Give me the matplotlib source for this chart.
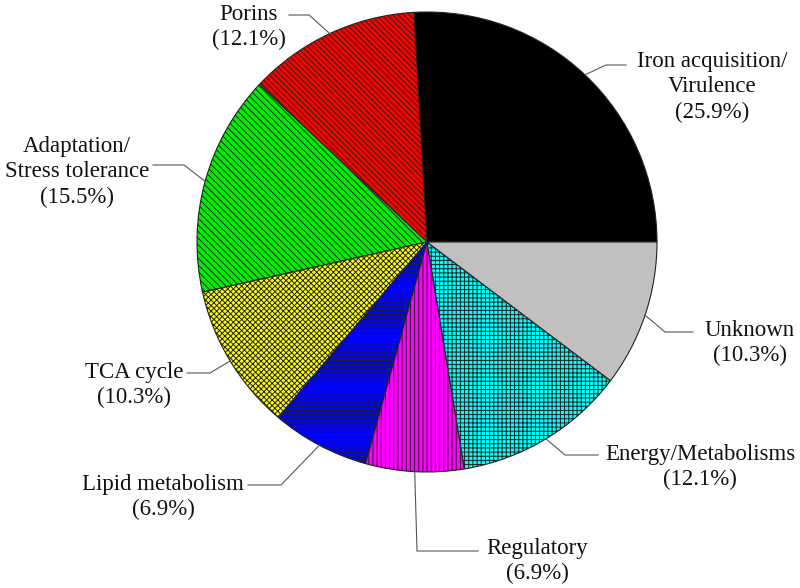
import numpy as np
import matplotlib
matplotlib.use('Agg')
from matplotlib import pyplot as plt

# slices, counter-clockwise from 3 o'clock
categories = ['Iron acquisition/\nVirulence', 'Porins', 'Adaptation/\nStress tolerance', 'TCA cycle',
              'Lipid metabolism', 'Regulatory', 'Energy/Metabolisms', 'Unknown']
percents = [25.9, 12.1, 15.5, 10.3, 6.9, 6.9, 12.1, 10.3]
colors = ['#000000', '#ff0000', '#00ee00', '#ffff00', '#0000ff', '#ff00ff', '#00ffff', '#c0c0c0']
hatches = ['', '\\' * 6, '\\' * 5, 'x' * 6, '----', '||||', '++++', '']

# label layout in pixels: (elbow, line end, text centre)
W, H = 800, 588
cx, cy, R = 427, 242, 230
elbows = [(606, 65), (309, 15), (184, 165), (210, 373), (281, 485), (417, 551), (565, 455), (665, 332)]
ends = [(626, 65), (289, 15), (153, 165), (187, 373), (248, 485), (478, 551), (598, 455), (693, 332)]
text_pos = [(712, 87), (249, 27), (77, 172), (134, 385), (163, 497), (537, 561), (700, 467), (750, 343)]


def px(p):
    return (p[0] - cx) / R, (cy - p[1]) / R


plt.rcParams['font.family'] = ['Liberation Serif', 'DejaVu Serif']
plt.rcParams['hatch.linewidth'] = 0.7

fig = plt.figure(figsize=(W / 100, H / 100), dpi=100)
ax = fig.add_axes([0, 0, 1, 1])

wedges, _ = ax.pie(percents, colors=colors, startangle=0, counterclock=True, radius=1,
                   wedgeprops=dict(edgecolor='#222222', linewidth=0.8))
for w, h in zip(wedges, hatches):
    w.set_hatch(h)

ax.set_aspect('auto')
ax.set_xlim(-cx / R, (W - cx) / R)
ax.set_ylim(-(H - cy) / R, cy / R)
ax.axis('off')

for w, cat, pct, el, en, tp in zip(wedges, categories, percents, elbows, ends, text_pos):
    mid = np.deg2rad((w.theta1 + w.theta2) / 2)
    edge = (np.cos(mid), np.sin(mid))
    e1, e2 = px(el), px(en)
    ax.plot([edge[0], e1[0], e2[0]], [edge[1], e1[1], e2[1]], color='#555555', lw=0.8)
    tx, ty = px(tp)
    ax.text(tx, ty, f'{cat}\n({pct}%)', ha='center', va='center', fontsize=16.5,
            color='#111111', linespacing=1.25)

fig.savefig('out.png', dpi=100)
